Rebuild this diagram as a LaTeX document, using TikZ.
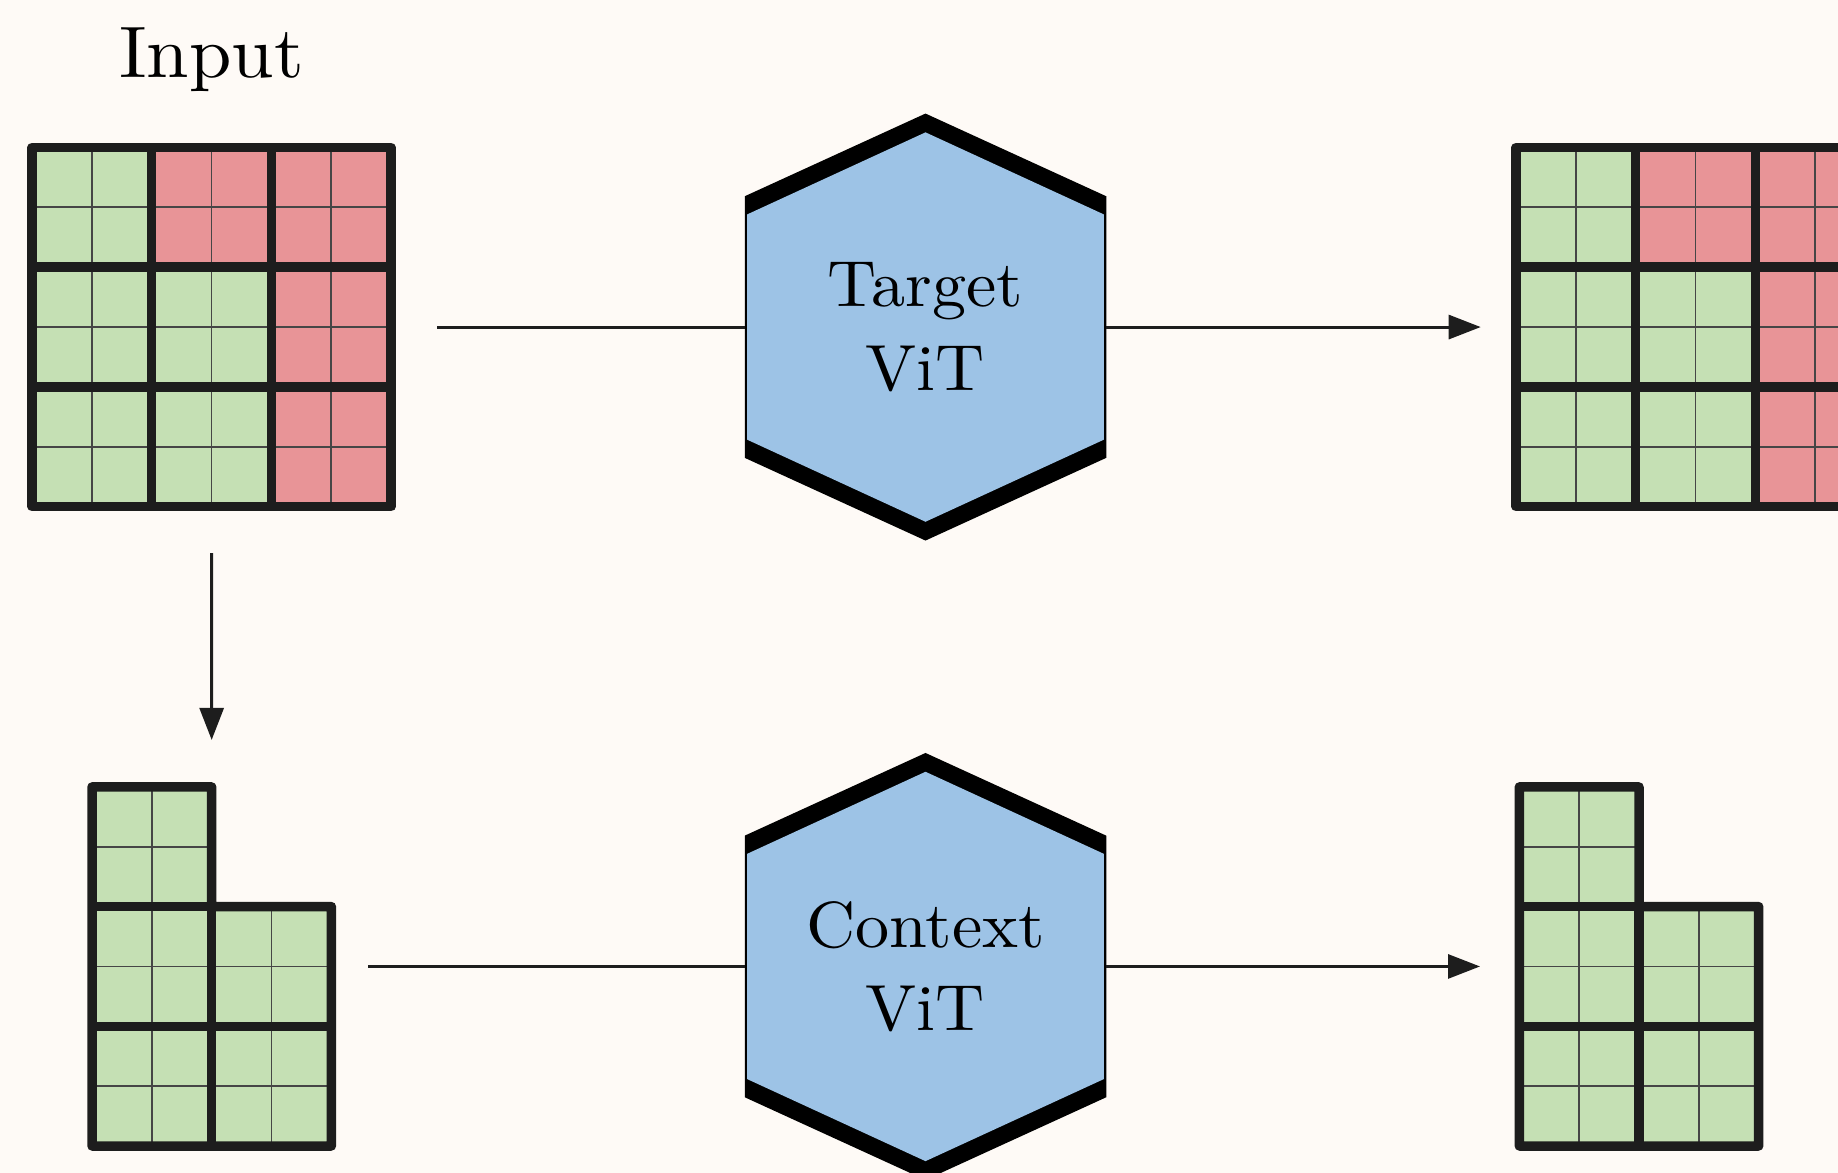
\documentclass[tikz,border=0pt]{standalone}
\usepackage{fontspec}
\setmainfont{lmroman10-regular}[Extension=.otf, FakeStretch=1.045]
\usetikzlibrary{arrows.meta}

\definecolor{paper}{RGB}{254,250,246}
\definecolor{patchgreen}{RGB}{197,224,180}
\definecolor{patchred}{RGB}{232,148,151}
\definecolor{vitblue}{RGB}{157,195,230}
\definecolor{ink}{RGB}{29,29,29}
\definecolor{hairline}{RGB}{70,70,70}

% one coloured patch split into 2x2 sub-patches
\newcommand\patchcell[3]{%
  \fill[#3] (#1,#2) rectangle ++(119.7,119.7);
  \draw[thinline] ({#1+59.85},{#2}) -- ++(0,119.7);
  \draw[thinline] ({#1},{#2+59.85}) -- ++(119.7,0);
}

% hexagonal encoder body: heavy slanted rims, thin vertical sides
\newcommand\vithex[2]{%
  \begin{scope}[shift={(#1,#2)}]
    \fill[black] (0,-213.5) -- (180.75,-130.8) -- (180.75,130.8) -- (0,213.5)
      -- (-180.75,130.8) -- (-180.75,-130.8) -- cycle;
    \fill[vitblue] (0,-194.7) -- (178.4,-112.6) -- (178.4,112.6) -- (0,194.7)
      -- (-178.4,112.6) -- (-178.4,-112.6) -- cycle;
  \end{scope}}

\tikzset{
  thinline/.style={draw=hairline, line width=0.9pt},
  heavyline/.style={draw=ink, line width=4.75pt, line join=round},
  conn/.style={draw=ink, line width=1.5pt},
  arrowed/.style={conn, -{Triangle[length=16pt,width=12pt]}},
  gridbox/.style={inner sep=0pt, outer sep=0pt, minimum width=179.55pt, minimum height=179.55pt},
  lbox/.style={inner sep=0pt, outer sep=0pt, minimum width=119.7pt, minimum height=179.55pt},
  vit/.style={rectangle, inner sep=0pt, outer sep=0pt,
    minimum width=180.75pt, minimum height=130.8pt, align=center,
    font=\fontsize{32.6}{41.65}\selectfont},
}

\begin{document}
\begin{tikzpicture}[x=0.5pt, y=-0.5pt]
\fill[paper] (0,0) rectangle (1838,1173);
\useasboundingbox (0,0) rectangle (1838,1173);
\clip (0,0) rectangle (1838,1173);

% full 3x3 patch grids (input and target output)
\foreach \gx/\gy in {32/147.5, 1516/147.5} {
  \foreach \c/\r/\col in {0/0/patchgreen, 1/0/patchred, 2/0/patchred,
                          0/1/patchgreen, 1/1/patchgreen, 2/1/patchred,
                          0/2/patchgreen, 1/2/patchgreen, 2/2/patchred}
    \patchcell{\gx+\c*119.7}{\gy+\r*119.7}{\col};
  \draw[heavyline] (\gx,\gy) rectangle ++(359.1,359.1);
  \draw[heavyline] ({\gx+119.7},{\gy}) -- ++(0,359.1);
  \draw[heavyline] ({\gx+239.4},{\gy}) -- ++(0,359.1);
  \draw[heavyline] ({\gx},{\gy+119.7}) -- ++(359.1,0);
  \draw[heavyline] ({\gx},{\gy+239.4}) -- ++(359.1,0);
}

% L-shaped context crops
\foreach \gx/\gy in {92/786.9, 1519.3/786.9} {
  \foreach \c/\r in {0/0, 0/1, 1/1, 0/2, 1/2}
    \patchcell{\gx+\c*119.7}{\gy+\r*119.7}{patchgreen};
  \draw[heavyline] (\gx,\gy) -- ++(119.7,0) -- ++(0,119.7) -- ++(119.7,0)
    -- ++(0,239.4) -- ++(-239.4,0) -- cycle;
  \draw[heavyline] ({\gx},{\gy+119.7}) -- ++(119.7,0);
  \draw[heavyline] ({\gx},{\gy+239.4}) -- ++(239.4,0);
  \draw[heavyline] ({\gx+119.7},{\gy+119.7}) -- ++(0,239.4);
}

% named boxes for the patch grids
\node[gridbox] (inp) at (211.55,327.05) {};
\node[gridbox] (out) at (1695.55,327.05) {};
\node[lbox] (crop) at (211.7,966.45) {};
\node[lbox] (cropout) at (1639,966.45) {};

\node[anchor=base, font=\fontsize{36.5}{43}\selectfont] (inlabel) at (211.55,77) {Input};

% encoders
\vithex{925.5}{327.05}
\vithex{925.5}{966.45}
\node[vit] (tgt) at (925.5,327.05) {Target\\ViT};
\node[vit] (ctx) at (925.5,966.45) {Context\\ViT};

% connectors
\draw[conn, shorten <=23pt] (inp.east) -- (tgt.west);
\draw[arrowed, shorten >=17.65pt] (tgt.east) -- (out.west);
\draw[arrowed, shorten <=23.3pt, shorten >=23.5pt] (inp.south) -- (crop.north);
\draw[conn, shorten <=18.5pt] (crop.east) -- (ctx.west);
\draw[arrowed, shorten >=19.65pt] (ctx.east) -- (cropout.west);
\end{tikzpicture}
\end{document}
